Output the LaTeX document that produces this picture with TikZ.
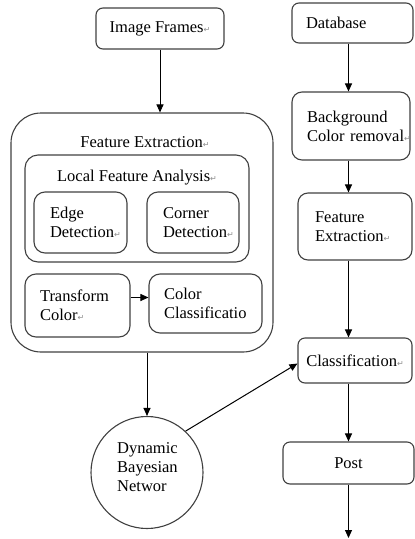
\documentclass[tikz,border=0pt]{standalone}
\usepackage{fontspec}
\setmainfont{Liberation Serif}
\newfontfamily\symfont{DejaVu Sans}
\usetikzlibrary{arrows.meta,shapes.geometric}
\newcommand{\pmark}{{\symfont\color{black!45}\fontsize{8}{8}\selectfont ↵}}
\tikzset{
  blk/.style={draw=black!75, line width=1.1pt, rounded corners=7pt, align=left},
  ttl/.style={inner sep=0pt},
  lnk/.style={->, line width=1pt}
}
\begin{document}
\begin{tikzpicture}[x=1pt,y=-1pt,font=\fontsize{16.5}{19}\selectfont,line join=round,>={Triangle[length=8pt,width=7pt]}]
			\useasboundingbox (0,0) rectangle (415,539);
			% left column
			\node[blk, minimum width=128, minimum height=41, align=center] (frames) at (160,28.5) {Image Frames\pmark};
			\node[blk, rounded corners=30pt, minimum width=262, minimum height=239] (fe) at (142,232.5) {};
			\node[ttl] (fetitle) at (145,142) {Feature Extraction\pmark};
			\node[blk, rounded corners=13pt, minimum width=224, minimum height=107] (lfa) at (137,208.5) {};
			\node[ttl] (lfatitle) at (137,178) {Local Feature Analysis\pmark};
			\node[blk, rounded corners=11pt, text width=61, inner xsep=16, minimum height=61] (edge) at (80.5,222.5) {Edge\\Detection\pmark};
			\node[blk, rounded corners=11pt, text width=60, inner xsep=16, minimum height=61] (corner) at (193,222.5) {Corner\\Detection\pmark};
			\node[blk, rounded corners=11pt, text width=75, inner xsep=15, minimum height=63] (transform) at (77.5,305.5) {Transform\\Color\pmark};
			\node[blk, rounded corners=11pt, text width=83, inner xsep=15, minimum height=59] (colorcls) at (205.5,303.5) {Color\\\mbox{Classificatio}};
			\node[draw=black!75, line width=1.1pt, circle, minimum size=112, align=left] (dbn) at (147,472.5) {};
			\node[ttl, align=left, anchor=west] (dbntext) at (117,467) {Dynamic\\Bayesian\\Networ};
			% right column
			\node[blk, text width=93, inner xsep=14, minimum height=40] (db) at (352.5,23) {Database};
			\node[blk, rounded corners=10pt, text width=88, inner xsep=15, minimum height=68] (bg) at (351,126) {Background\\\mbox{Color removal\pmark}};
			\node[blk, rounded corners=10pt, text width=80, inner xsep=17, minimum height=67] (fe2) at (355,226.5) {Feature\\Extraction\pmark};
			\node[blk, minimum width=114, minimum height=45, align=center] (cls) at (355,360.5) {Classification\pmark};
			\node[blk, minimum width=131, minimum height=42, align=center] (post) at (348.5,463) {Post};
			\coordinate (out) at (348.5,538);
			% connectors
			\draw[lnk] (frames.south) -- (frames.south |- fe.north);
			\draw[lnk] (dbn.north |- fe.south) -- (dbn.north);
			\draw[lnk] ([yshift=8pt]transform.east) -- ([yshift=8pt]colorcls.west |- transform.east);
			\draw[lnk] (dbn.47) -- ([yshift=-3pt]cls.west);
			\draw[lnk] (post |- db.south) -- (post |- bg.north);
			\draw[lnk] (post |- bg.south) -- (post |- fe2.north);
			\draw[lnk] (post |- fe2.south) -- (post |- cls.north);
			\draw[lnk] (post |- cls.south) -- (post.north);
			\draw[lnk] (post.south) -- (out);
	\end{tikzpicture}
\end{document}
